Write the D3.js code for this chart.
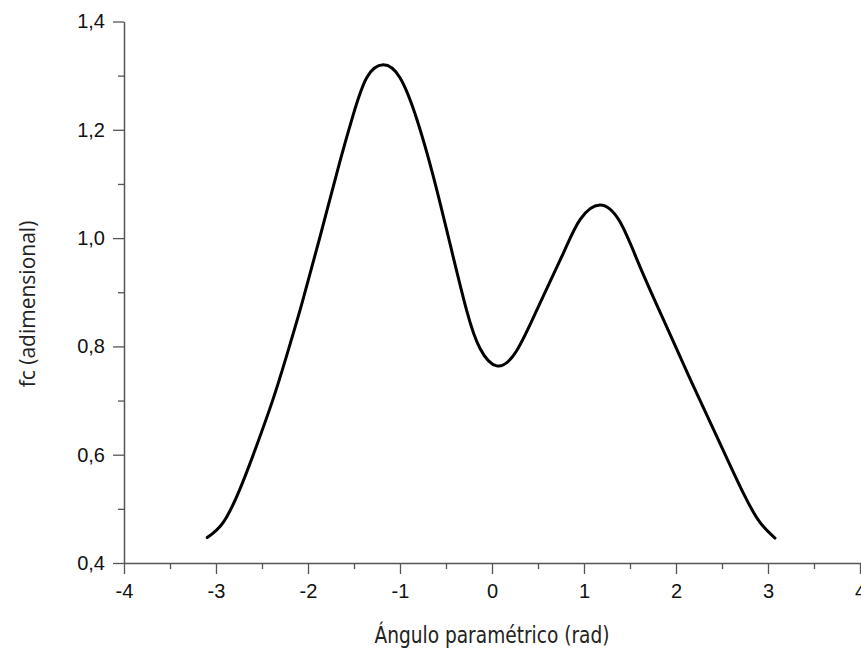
<!DOCTYPE html>
<html>
<head>
<meta charset="utf-8">
<script src="https://cdn.jsdelivr.net/npm/d3@7"></script>
<style>
  html, body { margin: 0; padding: 0; background: #fff; }
  #chart { width: 861px; height: 649px; }
</style>
</head>
<body>
<div id="chart"></div>
<script>
// Datos
const angulo = [-3.095, -2.921, -2.739, -2.558, -2.377, -2.232, -2.068, -1.870, -1.652, -1.508, -1.362, -1.182,
  -1.000, -0.818, -0.638, -0.457, -0.275, -0.130, 0.051, 0.268, 0.522, 0.775, 0.957, 1.174, 1.391, 1.609,
  1.899, 2.188, 2.478, 2.732, 2.913, 3.076];
const fc = [0.447, 0.475, 0.537, 0.617, 0.704, 0.783, 0.878, 1.002, 1.142, 1.228, 1.296, 1.320,
  1.296, 1.220, 1.114, 0.990, 0.866, 0.796, 0.764, 0.792, 0.880, 0.972, 1.034, 1.061, 1.030, 0.947,
  0.836, 0.727, 0.621, 0.529, 0.475, 0.446];

const xTicks = [-4, -3, -2, -1, 0, 1, 2, 3, 4];
const xMinorTicks = [-3.5, -2.5, -1.5, -0.5, 0.5, 1.5, 2.5, 3.5];
const yTicks = [0.4, 0.6, 0.8, 1.0, 1.2, 1.4];
const yMinorTicks = [0.5, 0.7, 0.9, 1.1, 1.3];

const margin = { top: 21.5, right: 1, bottom: 86, left: 124 },
      width = 861 - margin.left - margin.right,
      height = 649 - margin.top - margin.bottom;

const svg = d3.select("#chart")
  .append("svg")
  .attr("width", 861)
  .attr("height", 649)
  .style("overflow", "visible");

const g = svg.append("g")
  .attr("transform", `translate(${margin.left},${margin.top})`);

const x = d3.scaleLinear().domain([-4, 4]).range([0, width]);
const y = d3.scaleLinear().domain([0.4, 1.4]).range([height, 0]);

const axisColor = "#555";
const fmtY = d => d3.format(".1f")(d).replace(".", ",");

// Ejes - ticks menores
g.append("g")
  .attr("transform", `translate(0,${height})`)
  .call(d3.axisBottom(x).tickValues(xMinorTicks).tickSize(6).tickFormat(""))
  .call(s => s.select(".domain").remove());

g.append("g")
  .call(d3.axisLeft(y).tickValues(yMinorTicks).tickSize(6).tickFormat(""))
  .call(s => s.select(".domain").remove());

// Ejes principales
g.append("g")
  .attr("transform", `translate(0,${height})`)
  .call(d3.axisBottom(x).tickValues(xTicks).tickSize(11).tickPadding(10).tickSizeOuter(0).tickFormat(d => String(d)));

g.append("g")
  .call(d3.axisLeft(y).tickValues(yTicks).tickSize(11).tickPadding(8).tickSizeOuter(0).tickFormat(fmtY));

g.selectAll(".tick line").attr("stroke", axisColor).attr("stroke-width", 1.3);
g.selectAll(".domain").attr("stroke", axisColor).attr("stroke-width", 1.5);
g.selectAll(".tick text")
  .attr("fill", "#111")
  .attr("font-family", "'Liberation Sans', Arial, sans-serif")
  .attr("font-size", 20);

// Curva
const puntos = angulo.map((a, i) => [a, fc[i]]);
g.append("path")
  .datum(puntos)
  .attr("fill", "none")
  .attr("stroke", "#000")
  .attr("stroke-width", 3)
  .attr("stroke-linecap", "round")
  .attr("d", d3.line().x(d => x(d[0])).y(d => y(d[1])).curve(d3.curveNatural));

// Etiquetas
svg.append("text")
  .attr("x", margin.left + width / 2)
  .attr("y", 643)
  .attr("text-anchor", "middle")
  .attr("fill", "#222")
  .style("font-family", "'DejaVu Sans', sans-serif")
  .style("font-size", "23px")
  .attr("textLength", 235)
  .attr("lengthAdjust", "spacingAndGlyphs")
  .text("Ángulo paramétrico (rad)");

svg.append("text")
  .attr("transform", `translate(35,304) rotate(-90)`)
  .attr("text-anchor", "middle")
  .attr("fill", "#222")
  .style("font-family", "'Open Sans', sans-serif")
  .style("font-size", "21px")
  .text("fc (adimensional)");
</script>
</body>
</html>
